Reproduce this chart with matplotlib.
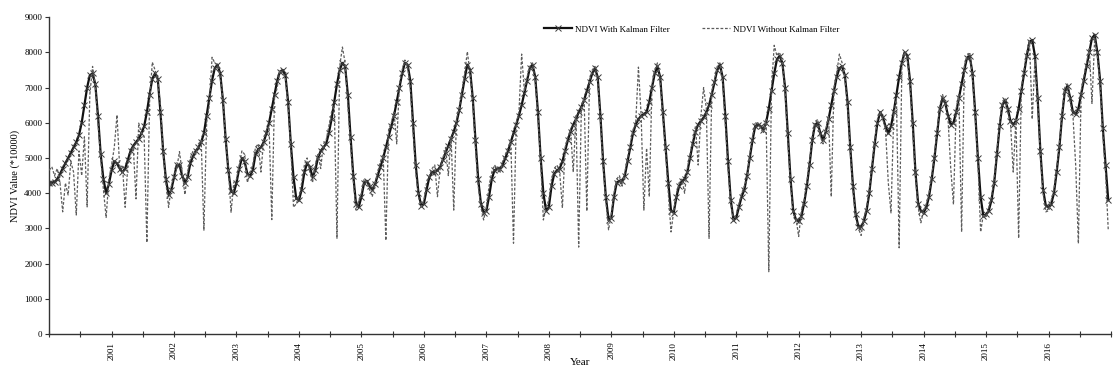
import numpy as np
import matplotlib
matplotlib.use("Agg")
import matplotlib.pyplot as plt
from matplotlib.ticker import MultipleLocator

plt.rcParams['font.family'] = ['Liberation Serif', 'DejaVu Serif']

years = list(range(2000, 2017))
per_year = 23  # 16-day composites

# NDVI with Kalman filter, one list per year (23 composites)
kalman = {
    2000: [4300,4300,4320,4400,4550,4700,4850,5000,5150,5300,5450,5650,6000,6500,7000,7350,7400,7100,6200,5100,4400,4000,4250],
    2001: [4650,4900,4850,4700,4600,4700,4950,5200,5350,5450,5550,5700,5900,6300,6800,7250,7400,7250,6300,5200,4400,3950,4100],
    2002: [4450,4800,4800,4500,4300,4450,4850,5050,5200,5300,5450,5700,6200,6700,7200,7550,7650,7400,6650,5550,4650,4050,4000],
    2003: [4300,4700,5000,4900,4550,4500,4650,5100,5250,5300,5450,5700,6000,6400,6800,7200,7450,7500,7350,6600,5400,4450,3850],
    2004: [3800,4100,4600,4850,4750,4450,4650,5000,5200,5300,5400,5700,6100,6600,7100,7500,7700,7600,6800,5600,4500,3700,3600],
    2005: [3900,4300,4350,4200,4100,4250,4500,4750,5000,5300,5600,5900,6200,6600,7000,7400,7700,7650,7200,6000,4800,4000,3650],
    2006: [3700,4100,4450,4600,4600,4650,4750,4950,5150,5350,5550,5750,6000,6350,6800,7250,7650,7500,6700,5500,4400,3700,3450],
    2007: [3500,3900,4400,4650,4700,4700,4800,5000,5200,5450,5700,5950,6200,6500,6850,7200,7550,7650,7300,6300,5000,4000,3500],
    2008: [3600,4200,4550,4650,4700,4900,5200,5500,5750,5950,6100,6300,6450,6650,6900,7150,7400,7550,7300,6200,4900,3900,3250],
    2009: [3300,3900,4300,4350,4350,4500,4900,5300,5700,5950,6100,6200,6250,6300,6600,7000,7400,7600,7300,6300,5300,4300,3500],
    2010: [3450,3900,4200,4350,4400,4600,5000,5400,5750,5950,6050,6150,6300,6500,6800,7150,7500,7650,7300,6200,4900,3800,3250],
    2011: [3300,3600,3900,4100,4500,5000,5500,5900,5950,5900,5800,6000,6400,6900,7400,7800,7900,7700,7000,5700,4400,3500,3250],
    2012: [3200,3350,3700,4200,4800,5500,5950,6000,5700,5500,5750,6100,6500,6900,7300,7550,7600,7350,6600,5300,4200,3400,3050],
    2013: [3050,3200,3500,4000,4700,5400,6000,6300,6150,5900,5700,5900,6300,6800,7300,7700,8000,7900,7200,6000,4600,3700,3500],
    2014: [3450,3600,3900,4400,5000,5700,6400,6700,6550,6200,5950,6000,6300,6700,7100,7500,7850,7900,7400,6300,5000,3900,3350],
    2015: [3400,3500,3800,4300,5100,5900,6500,6650,6400,6050,5950,6050,6400,6900,7400,7900,8300,8350,7900,6700,5200,4100,3650],
    2016: [3600,3700,4000,4600,5300,6200,6900,7050,6700,6300,6250,6400,6800,7200,7600,8000,8400,8500,8000,7200,5850,4800,3800],
}

# NDVI without Kalman filter (raw composites)
raw = {
    2000: [4650,4750,4500,4700,4300,3470,4290,3950,4900,4600,3380,5200,4500,5600,3610,6800,7600,7100,6000,5000,4100,3310,4400],
    2001: [4800,5300,6220,4700,4800,3600,4800,5100,5300,3840,5990,5700,5600,2600,6600,7720,7500,7200,6500,5200,4300,3600,4200],
    2002: [4500,4700,5180,4600,3960,4600,5000,5200,5100,5400,5500,2950,6000,6500,7860,7700,7650,7300,6700,5500,4700,3460,4300],
    2003: [4400,4800,5200,5100,4300,4600,4800,5300,5400,4600,5500,5800,5900,3250,6700,7000,7500,7400,7300,6500,5300,3600,3700],
    2004: [3900,4300,4800,5000,4600,4300,4800,5100,4700,5400,5500,5900,6300,6500,2720,7600,8150,7700,6500,5400,4400,3520,3800],
    2005: [4000,4400,4300,4100,3900,4300,4600,4900,5100,2660,5800,6000,6300,5400,7100,7500,7780,7600,7000,5800,4600,3900,3620],
    2006: [3800,4300,4500,4700,4800,3900,4700,5000,5300,4500,5600,3520,6100,6400,6900,7400,8020,7400,6600,5300,4200,3600,3240],
    2007: [3600,4200,4600,4800,4700,4600,4900,5100,5300,5500,2580,6000,6300,7950,6900,7300,7600,7700,7200,6200,4900,3240,3600],
    2008: [3800,4400,4700,4800,4600,3580,5300,5600,5800,4600,6200,2470,6500,6700,3490,7200,7500,7600,7200,6100,4800,3800,2960],
    2009: [3400,4000,4400,4500,4200,4600,5000,5400,5800,6000,7580,6200,3520,5280,3900,7100,7500,7700,7200,6200,5200,4000,2900],
    2010: [3500,4000,4300,4400,4000,4700,5100,5500,5900,4800,6200,7000,6400,2720,6900,7200,7600,7700,7200,6000,4700,3700,3240],
    2011: [3400,3700,4000,4200,4400,5100,5600,6000,6000,5850,5700,6100,1770,7000,8200,7900,8000,7700,6900,5500,4300,3400,3300],
    2012: [2770,3500,3800,4300,4900,5600,6000,6100,5600,5400,5800,6200,3900,7000,7400,7950,7700,7300,6500,5200,4100,3300,3000],
    2013: [2800,3300,3600,4100,4800,5500,6100,6300,6100,5800,4300,3440,6200,6700,2450,7600,8000,7800,7100,5800,4500,3600,3160],
    2014: [3500,3700,4000,4500,5100,5800,6500,6800,6500,6100,4700,3680,6400,6800,2900,7600,7900,8000,7300,6200,4900,2900,3400],
    2015: [3300,3600,3900,4400,5200,6000,6600,6700,6300,6000,4600,6100,2720,7000,7500,8000,8300,6100,7800,6600,5100,4000,3470],
    2016: [3500,3800,4100,4700,5400,6300,7000,7100,6600,6200,4800,2570,6900,7300,7700,8100,6550,8400,7900,7100,5700,4600,2950],
}

t = np.concatenate([y + np.arange(per_year) / per_year for y in years])
k_vals = np.concatenate([kalman[y] for y in years])
r_vals = np.concatenate([raw[y] for y in years])

fig = plt.figure(figsize=(11.16, 3.72), dpi=100)
ax = fig.add_axes([0.044, 0.102, 0.9515, 0.852])

ax.plot(t, k_vals, color='#111111', lw=1.6, marker='x', ms=4.5, mew=0.7,
        mec='#3a3a3a', label='NDVI With Kalman Filter', zorder=2)
ax.plot(t, r_vals, color='#5c5c5c', lw=0.9, ls=(0, (2.2, 1.4)),
        label='NDVI Without Kalman Filter', zorder=3)

ax.set_xlim(2000, 2017)
ax.set_ylim(0, 9000)
ax.yaxis.set_major_locator(MultipleLocator(1000))
ax.set_xticks(years[1:])
ax.set_xticklabels([str(y) for y in years[1:]], rotation=90, fontsize=6.5)
ax.xaxis.set_minor_locator(MultipleLocator(0.5))
ax.tick_params(axis='x', which='both', direction='inout', length=5, width=0.8,
               color='#333333', pad=3)
ax.tick_params(axis='y', direction='out', length=3, width=0.8,
               color='#333333', labelsize=6.5, pad=2)

for s in ['top', 'right']:
    ax.spines[s].set_visible(False)
for s in ['left', 'bottom']:
    ax.spines[s].set_color('#333333')
    ax.spines[s].set_linewidth(1.0)

ax.set_xlabel('Year', fontsize=8)
ax.xaxis.set_label_coords(0.5, -0.075)
ax.set_ylabel('NDVI Value (*10000)', fontsize=7.5, labelpad=3)

ax.legend(loc='upper center', bbox_to_anchor=(0.605, 1.0), ncol=2,
          frameon=False, fontsize=6.5, columnspacing=3.5, handlelength=3.2,
          handletextpad=0.3)

plt.savefig('out.png', dpi=100)
